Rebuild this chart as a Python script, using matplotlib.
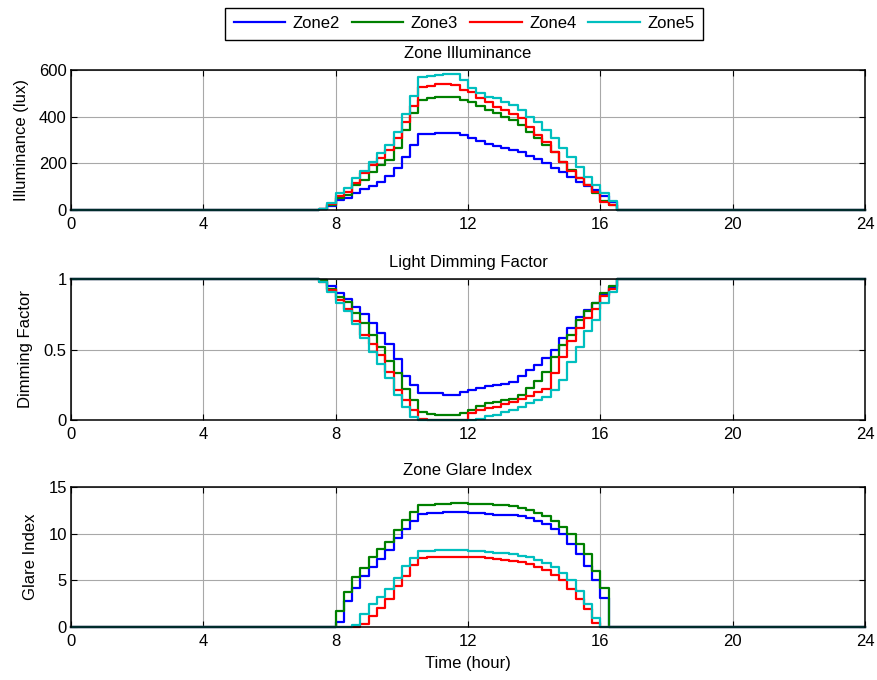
import numpy as np
import matplotlib
matplotlib.use('Agg')
import matplotlib.pyplot as plt

plt.rcParams['font.family'] = ['Liberation Sans', 'DejaVu Sans']
plt.rcParams['font.size'] = 12

# 15 minute steps over the day
t = np.arange(0, 24.25, 0.25)
zones = ['Zone2', 'Zone3', 'Zone4', 'Zone5']
colors = ['#0000ff', '#008000', '#ff0000', '#00bfbf']

# daylight part of each series, starting at 7.5 h (illuminance, dimming)
day_start = 7.5
illum = {
    'Zone2': [4, 19, 43, 50, 74, 90, 104, 121, 146, 181, 229, 279, 324, 327, 331, 331, 329, 321,
              310, 296, 281, 274, 267, 257, 247, 233, 219, 200, 181, 161, 140, 121, 104, 84, 61, 36],
    'Zone3': [5, 21, 50, 64, 107, 129, 164, 193, 214, 264, 343, 414, 471, 479, 484, 486, 486, 471,
              464, 447, 429, 414, 400, 386, 364, 336, 307, 279, 247, 207, 171, 136, 107, 74, 39, 21],
    'Zone4': [5, 24, 61, 79, 114, 157, 193, 221, 257, 310, 379, 447, 529, 533, 539, 539, 536, 514,
              507, 479, 461, 443, 429, 410, 393, 357, 321, 293, 247, 207, 167, 136, 107, 79, 36, 21],
    'Zone5': [6, 29, 71, 93, 136, 167, 207, 243, 279, 336, 410, 490, 571, 576, 579, 581, 581, 557,
              521, 500, 486, 479, 464, 450, 429, 400, 379, 343, 307, 267, 229, 186, 143, 107, 71, 39],
}
dimming = {
    'Zone2': [0.99, 0.95, 0.90, 0.86, 0.80, 0.75, 0.69, 0.62, 0.54, 0.43, 0.31, 0.25, 0.19, 0.19,
              0.19, 0.18, 0.18, 0.20, 0.21, 0.225, 0.24, 0.245, 0.255, 0.27, 0.31, 0.355, 0.39,
              0.44, 0.50, 0.58, 0.65, 0.73, 0.78, 0.83, 0.89, 0.94],
    'Zone3': [0.99, 0.93, 0.87, 0.84, 0.76, 0.69, 0.60, 0.52, 0.42, 0.33, 0.22, 0.14, 0.06, 0.04,
              0.035, 0.035, 0.035, 0.05, 0.07, 0.10, 0.12, 0.13, 0.14, 0.15, 0.18, 0.23, 0.28,
              0.34, 0.45, 0.53, 0.60, 0.71, 0.77, 0.83, 0.90, 0.95],
    'Zone4': [0.98, 0.92, 0.85, 0.79, 0.70, 0.60, 0.54, 0.46, 0.34, 0.21, 0.14, 0.07, 0.01, 0.0,
              0.0, 0.0, 0.0, 0.0, 0.05, 0.07, 0.085, 0.095, 0.11, 0.13, 0.15, 0.17, 0.20,
              0.22, 0.33, 0.45, 0.56, 0.65, 0.72, 0.79, 0.88, 0.93],
    'Zone5': [0.98, 0.91, 0.83, 0.77, 0.68, 0.58, 0.48, 0.40, 0.30, 0.18, 0.09, 0.02, 0.0, 0.0,
              0.0, 0.0, 0.0, 0.0, 0.0, 0.01, 0.025, 0.035, 0.055, 0.07, 0.095, 0.12, 0.14,
              0.165, 0.21, 0.285, 0.41, 0.52, 0.63, 0.71, 0.83, 0.91],
}
# glare starts at 8.0 h
glare_start = 8.0
glare = {
    'Zone2': [0.58, 2.8, 4.2, 5.5, 6.4, 7.3, 8.2, 9.5, 10.5, 11.4, 12.15, 12.25, 12.25, 12.3, 12.3, 12.3,
              12.2, 12.2, 12.15, 12.05, 12.0, 12.0, 11.9, 11.7, 11.4, 11.0, 10.5, 10.0, 8.9, 7.8, 6.5, 5.0, 3.1],
    'Zone3': [1.73, 3.71, 5.32, 6.33, 7.48, 8.38, 9.1, 10.4, 11.5, 12.3, 13.1, 13.1, 13.15, 13.2, 13.25, 13.25,
              13.2, 13.15, 13.15, 13.1, 13.05, 13.0, 12.8, 12.5, 12.25, 11.9, 11.4, 10.7, 10.0, 8.9, 7.8, 6.0, 4.2],
    'Zone4': [0, 0, 0, 0.3, 1.2, 2.0, 3.0, 4.4, 5.5, 6.6, 7.4, 7.45, 7.5, 7.5, 7.55, 7.55,
              7.5, 7.45, 7.4, 7.25, 7.2, 7.1, 6.95, 6.75, 6.45, 6.1, 5.6, 5.0, 4.1, 3.0, 1.9, 0.4, 0],
    'Zone5': [0, 0, 0.2, 1.37, 2.45, 3.17, 4.06, 5.3, 6.5, 7.4, 8.1, 8.15, 8.2, 8.25, 8.27, 8.27,
              8.13, 8.13, 8.0, 7.9, 7.9, 7.85, 7.65, 7.5, 7.2, 6.9, 6.4, 5.75, 5.0, 3.9, 2.45, 1.0, 0],
}


def full_day(vals, start, base):
    y = np.full(len(t), float(base))
    i0 = int(round(start / 0.25))
    y[i0:i0 + len(vals)] = vals
    return y


fig = plt.figure(figsize=(8.77, 6.8), dpi=100)
W = 877.0
H = 680.0
left = 71 / W
width = 794 / W
boxes = [(70, 210), (279, 420), (487, 627)]
axs = [fig.add_axes([left, 1 - b / H, width, (b - tp) / H]) for tp, b in boxes]

panels = [
    (illum, day_start, 0.0, 'Zone Illuminance', 'Illuminance (lux)', (0, 600), [0, 200, 400, 600], ['0', '200', '400', '600']),
    (dimming, day_start, 1.0, 'Light Dimming Factor', 'Dimming Factor', (0, 1), [0, 0.5, 1], ['0', '0.5', '1']),
    (glare, glare_start, 0.0, 'Zone Glare Index', 'Glare Index', (0, 15), [0, 5, 10, 15], ['0', '5', '10', '15']),
]

lines = []
for ax, (data, start, base, title, ylab, ylim, yt, ytl) in zip(axs, panels):
    for z, c in zip(zones, colors):
        y = full_day(data[z], start, base)
        ln, = ax.step(t, y, where='post', color=c, lw=1.6, clip_on=False, label=z)
        if ax is axs[0]:
            lines.append(ln)
    ax.set_xlim(0, 24)
    ax.set_ylim(*ylim)
    ax.set_xticks(range(0, 25, 4))
    ax.set_yticks(yt)
    ax.set_yticklabels(ytl)
    ax.set_title(title, fontsize=12, pad=9)
    ax.set_ylabel(ylab, fontsize=12, labelpad=7.5)
    ax.grid(True, color='#a8a8a8', lw=0.8)
    ax.tick_params(direction='in', top=True, right=True, length=4, labelsize=12)
    ax.tick_params(axis='x', pad=5)
    ax.tick_params(axis='y', pad=3)
    for s in ax.spines.values():
        s.set_linewidth(1.1)

axs[2].set_xlabel('Time (hour)', fontsize=12, labelpad=5)

fig.legend(lines, zones, loc='upper center', bbox_to_anchor=(464 / W, 1 - 8 / H), ncol=4,
           fancybox=False, edgecolor='black', framealpha=1, fontsize=12,
           handlelength=3.1, columnspacing=0.7, borderpad=0.5, handletextpad=0.45,
           borderaxespad=0)

fig.savefig('out.png', dpi=100)
